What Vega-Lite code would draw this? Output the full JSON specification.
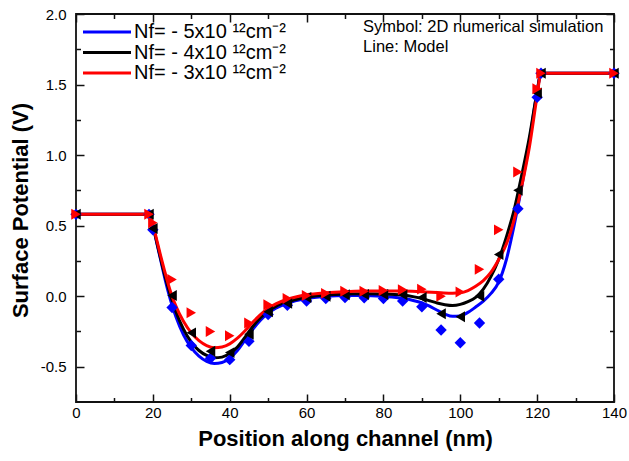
{
  "$schema": "https://vega.github.io/schema/vega-lite/v6.json",
  "width": 538,
  "height": 388,
  "autosize": {"type": "none"},
  "padding": {"left": 76, "top": 14, "right": 15, "bottom": 59},
  "background": "white",
  "config": {
    "font": "Liberation Sans",
    "view": {"stroke": "#111111", "strokeWidth": 1.8},
    "axis": {
      "grid": false,
      "domain": false,
      "tickColor": "#111111",
      "labelColor": "#000000",
      "titleColor": "#000000",
      "labelFont": "Liberation Sans",
      "titleFont": "Liberation Sans",
      "labelFontSize": 15,
      "tickWidth": 1.5
    }
  },
  "datasets": {
    "lines": [
      {"s":"5","x":0,"y":0.58},{"s":"5","x":19,"y":0.58},{"s":"5","x":20,"y":0.50},{"s":"5","x":21,"y":0.38},{"s":"5","x":22,"y":0.26},{"s":"5","x":23,"y":0.14},{"s":"5","x":24,"y":0.03},{"s":"5","x":25,"y":-0.065},{"s":"5","x":26,"y":-0.145},{"s":"5","x":28,"y":-0.275},{"s":"5","x":30,"y":-0.365},{"s":"5","x":32,"y":-0.425},{"s":"5","x":34,"y":-0.462},{"s":"5","x":36,"y":-0.477},{"s":"5","x":38,"y":-0.47},{"s":"5","x":40,"y":-0.44},{"s":"5","x":42,"y":-0.385},{"s":"5","x":44,"y":-0.31},{"s":"5","x":46,"y":-0.235},{"s":"5","x":48,"y":-0.17},{"s":"5","x":50,"y":-0.12},{"s":"5","x":52,"y":-0.085},{"s":"5","x":55,"y":-0.05},{"s":"5","x":58,"y":-0.028},{"s":"5","x":60,"y":-0.017},{"s":"5","x":65,"y":-0.002},{"s":"5","x":70,"y":0.005},{"s":"5","x":75,"y":0.005},{"s":"5","x":80,"y":-0.002},{"s":"5","x":85,"y":-0.015},{"s":"5","x":88,"y":-0.032},{"s":"5","x":90,"y":-0.047},{"s":"5","x":92,"y":-0.07},{"s":"5","x":94,"y":-0.1},{"s":"5","x":96,"y":-0.127},{"s":"5","x":98,"y":-0.143},{"s":"5","x":100,"y":-0.14},{"s":"5","x":102,"y":-0.115},{"s":"5","x":104,"y":-0.077},{"s":"5","x":106,"y":-0.035},{"s":"5","x":108,"y":0.02},{"s":"5","x":110,"y":0.1},{"s":"5","x":112,"y":0.26},{"s":"5","x":114,"y":0.5},{"s":"5","x":116,"y":0.78},{"s":"5","x":118,"y":1.1},{"s":"5","x":120,"y":1.45},{"s":"5","x":121,"y":1.58},{"s":"5","x":140,"y":1.58},
      {"s":"4","x":0,"y":0.58},{"s":"4","x":19,"y":0.58},{"s":"4","x":20,"y":0.50},{"s":"4","x":21,"y":0.385},{"s":"4","x":22,"y":0.27},{"s":"4","x":23,"y":0.16},{"s":"4","x":24,"y":0.06},{"s":"4","x":25,"y":-0.03},{"s":"4","x":26,"y":-0.11},{"s":"4","x":28,"y":-0.235},{"s":"4","x":30,"y":-0.325},{"s":"4","x":32,"y":-0.385},{"s":"4","x":34,"y":-0.42},{"s":"4","x":36,"y":-0.437},{"s":"4","x":38,"y":-0.432},{"s":"4","x":40,"y":-0.407},{"s":"4","x":42,"y":-0.36},{"s":"4","x":44,"y":-0.29},{"s":"4","x":46,"y":-0.215},{"s":"4","x":48,"y":-0.152},{"s":"4","x":50,"y":-0.105},{"s":"4","x":52,"y":-0.072},{"s":"4","x":55,"y":-0.04},{"s":"4","x":58,"y":-0.018},{"s":"4","x":60,"y":-0.008},{"s":"4","x":65,"y":0.008},{"s":"4","x":70,"y":0.016},{"s":"4","x":75,"y":0.018},{"s":"4","x":80,"y":0.016},{"s":"4","x":85,"y":0.008},{"s":"4","x":88,"y":-0.005},{"s":"4","x":90,"y":-0.017},{"s":"4","x":92,"y":-0.032},{"s":"4","x":94,"y":-0.048},{"s":"4","x":96,"y":-0.06},{"s":"4","x":98,"y":-0.066},{"s":"4","x":100,"y":-0.058},{"s":"4","x":102,"y":-0.038},{"s":"4","x":104,"y":-0.008},{"s":"4","x":106,"y":0.05},{"s":"4","x":108,"y":0.14},{"s":"4","x":110,"y":0.26},{"s":"4","x":112,"y":0.42},{"s":"4","x":114,"y":0.61},{"s":"4","x":116,"y":0.86},{"s":"4","x":118,"y":1.13},{"s":"4","x":120,"y":1.45},{"s":"4","x":121,"y":1.58},{"s":"4","x":140,"y":1.58},
      {"s":"3","x":0,"y":0.58},{"s":"3","x":19,"y":0.58},{"s":"3","x":20,"y":0.51},{"s":"3","x":21,"y":0.40},{"s":"3","x":22,"y":0.29},{"s":"3","x":23,"y":0.185},{"s":"3","x":24,"y":0.085},{"s":"3","x":25,"y":0.0},{"s":"3","x":26,"y":-0.07},{"s":"3","x":28,"y":-0.18},{"s":"3","x":30,"y":-0.26},{"s":"3","x":32,"y":-0.315},{"s":"3","x":34,"y":-0.35},{"s":"3","x":36,"y":-0.365},{"s":"3","x":38,"y":-0.36},{"s":"3","x":40,"y":-0.338},{"s":"3","x":42,"y":-0.298},{"s":"3","x":44,"y":-0.245},{"s":"3","x":46,"y":-0.185},{"s":"3","x":48,"y":-0.13},{"s":"3","x":50,"y":-0.088},{"s":"3","x":52,"y":-0.055},{"s":"3","x":55,"y":-0.022},{"s":"3","x":58,"y":0.0},{"s":"3","x":60,"y":0.01},{"s":"3","x":65,"y":0.024},{"s":"3","x":70,"y":0.032},{"s":"3","x":75,"y":0.036},{"s":"3","x":80,"y":0.037},{"s":"3","x":85,"y":0.036},{"s":"3","x":90,"y":0.032},{"s":"3","x":95,"y":0.024},{"s":"3","x":98,"y":0.021},{"s":"3","x":100,"y":0.024},{"s":"3","x":102,"y":0.04},{"s":"3","x":104,"y":0.07},{"s":"3","x":106,"y":0.11},{"s":"3","x":108,"y":0.17},{"s":"3","x":110,"y":0.26},{"s":"3","x":112,"y":0.37},{"s":"3","x":114,"y":0.54},{"s":"3","x":116,"y":0.78},{"s":"3","x":118,"y":1.06},{"s":"3","x":120,"y":1.42},{"s":"3","x":121,"y":1.58},{"s":"3","x":140,"y":1.58}
    ],
    "pts": [
      {"s":"5","x":0,"y":0.58},{"s":"5","x":19,"y":0.58},{"s":"5","x":20,"y":0.47},{"s":"5","x":25,"y":-0.08},{"s":"5","x":30,"y":-0.35},{"s":"5","x":35,"y":-0.44},{"s":"5","x":40,"y":-0.45},{"s":"5","x":45,"y":-0.32},{"s":"5","x":50,"y":-0.13},{"s":"5","x":55,"y":-0.065},{"s":"5","x":60,"y":-0.035},{"s":"5","x":65,"y":-0.016},{"s":"5","x":70,"y":-0.01},{"s":"5","x":75,"y":-0.012},{"s":"5","x":80,"y":-0.016},{"s":"5","x":85,"y":-0.035},{"s":"5","x":90,"y":-0.075},{"s":"5","x":95,"y":-0.24},{"s":"5","x":100,"y":-0.33},{"s":"5","x":105,"y":-0.19},{"s":"5","x":110,"y":0.12},{"s":"5","x":115,"y":0.62},{"s":"5","x":120,"y":1.41},{"s":"5","x":121,"y":1.58},{"s":"5","x":140,"y":1.58},
      {"s":"4","x":0,"y":0.58},{"s":"4","x":19,"y":0.58},{"s":"4","x":20,"y":0.48},{"s":"4","x":25,"y":0.005},{"s":"4","x":30,"y":-0.26},{"s":"4","x":35,"y":-0.39},{"s":"4","x":40,"y":-0.40},{"s":"4","x":45,"y":-0.27},{"s":"4","x":50,"y":-0.11},{"s":"4","x":55,"y":-0.05},{"s":"4","x":60,"y":-0.01},{"s":"4","x":65,"y":0.0},{"s":"4","x":70,"y":0.01},{"s":"4","x":75,"y":0.012},{"s":"4","x":80,"y":0.012},{"s":"4","x":85,"y":0.01},{"s":"4","x":90,"y":-0.01},{"s":"4","x":95,"y":-0.125},{"s":"4","x":100,"y":-0.146},{"s":"4","x":105,"y":0.0},{"s":"4","x":110,"y":0.295},{"s":"4","x":115,"y":0.75},{"s":"4","x":120,"y":1.44},{"s":"4","x":121,"y":1.58},{"s":"4","x":140,"y":1.58},
      {"s":"3","x":0,"y":0.58},{"s":"3","x":19,"y":0.58},{"s":"3","x":20,"y":0.52},{"s":"3","x":25,"y":0.118},{"s":"3","x":30,"y":-0.118},{"s":"3","x":35,"y":-0.25},{"s":"3","x":40,"y":-0.28},{"s":"3","x":45,"y":-0.19},{"s":"3","x":50,"y":-0.06},{"s":"3","x":55,"y":-0.016},{"s":"3","x":60,"y":0.005},{"s":"3","x":65,"y":0.02},{"s":"3","x":70,"y":0.035},{"s":"3","x":75,"y":0.035},{"s":"3","x":80,"y":0.04},{"s":"3","x":85,"y":0.045},{"s":"3","x":90,"y":0.05},{"s":"3","x":95,"y":0.0},{"s":"3","x":100,"y":0.03},{"s":"3","x":105,"y":0.19},{"s":"3","x":110,"y":0.47},{"s":"3","x":115,"y":0.88},{"s":"3","x":120,"y":1.47},{"s":"3","x":121,"y":1.58},{"s":"3","x":140,"y":1.58}
    ]
  },
  "resolve": {"axis": {"x": "independent", "y": "independent"}},
  "layer": [
    {
      "data": {"name": "lines"},
      "transform": [{"filter": "datum.s == '5'"}],
      "mark": {"type": "line", "strokeWidth": 3, "interpolate": "monotone"},
      "encoding": {
        "x": {"field": "x", "type": "quantitative", "scale": {"domain": [0, 140], "nice": false, "zero": false},
          "axis": {"orient": "bottom", "offset": -8, "tickSize": 8, "values": [0,20,40,60,80,100,120,140], "labelPadding": 3, "labelFlush": false,
            "title": "Position along channel (nm)", "titleFontSize": 22, "titleFontWeight": "bold", "titlePadding": 8}},
        "y": {"field": "y", "type": "quantitative", "scale": {"domain": [-0.75, 2.0], "nice": false, "zero": false},
          "axis": {"orient": "left", "offset": -8, "tickSize": 8, "values": [-0.5,0,0.5,1,1.5,2], "labelPadding": 10, "labelFlush": false,
            "labelExpr": "datum.value < 0 ? '-' + format(-datum.value, '.1f') : format(datum.value, '.1f')",
            "title": "Surface Potential (V)", "titleFontSize": 22, "titleFontWeight": "bold", "titlePadding": 8, "titleY": 196}},
        "color": {"field": "s", "type": "nominal",
          "scale": {"domain": ["5","4","3"], "range": ["#0000ff","#000000","#ff0000"]},
          "legend": {"orient": "none", "legendX": 21, "legendY": 8, "title": null, "symbolType": "M-4,0L4,0", "symbolSize": 144,
            "symbolStrokeWidth": 3, "labelFontSize": 20, "labelOffset": 17, "rowPadding": 0.5, "padding": 0, "labelLimit": 0,
            "labelColor": "#000000", "labelFont": "Liberation Sans",
            "labelExpr": "'Nf= - ' + datum.label + 'x10 ¹²cm⁻²'"}}
      }
    },
    {
      "data": {"name": "lines"},
      "transform": [{"filter": "datum.s == '4'"}],
      "mark": {"type": "line", "strokeWidth": 3, "interpolate": "monotone"},
      "encoding": {
        "x": {"field": "x", "type": "quantitative",
          "axis": {"orient": "bottom", "offset": -4.5, "tickSize": 4.5, "values": [10,30,50,70,90,110,130], "labels": false, "title": null}},
        "y": {"field": "y", "type": "quantitative",
          "axis": {"orient": "left", "offset": -4.5, "tickSize": 4.5, "values": [-0.25,0.25,0.75,1.25,1.75], "labels": false, "title": null}},
        "color": {"field": "s", "type": "nominal"}
      }
    },
    {
      "data": {"name": "lines"},
      "transform": [{"filter": "datum.s == '3'"}],
      "mark": {"type": "line", "strokeWidth": 3, "interpolate": "monotone"},
      "encoding": {
        "x": {"field": "x", "type": "quantitative",
          "axis": {"orient": "top", "offset": -8, "tickSize": 8, "values": [0,20,40,60,80,100,120,140], "labels": false, "title": null}},
        "y": {"field": "y", "type": "quantitative",
          "axis": {"orient": "right", "offset": -8, "tickSize": 8, "values": [-0.5,0,0.5,1,1.5,2], "labels": false, "title": null}},
        "color": {"field": "s", "type": "nominal"}
      }
    },
    {
      "data": {"name": "pts"},
      "transform": [{"filter": "datum.s == '5'"}],
      "mark": {"type": "point", "shape": "diamond", "filled": true, "size": 130, "color": "#0000ff", "opacity": 1},
      "encoding": {
        "x": {"field": "x", "type": "quantitative",
          "axis": {"orient": "top", "offset": -4.5, "tickSize": 4.5, "values": [10,30,50,70,90,110,130], "labels": false, "title": null}},
        "y": {"field": "y", "type": "quantitative",
          "axis": {"orient": "right", "offset": -4.5, "tickSize": 4.5, "values": [-0.25,0.25,0.75,1.25,1.75], "labels": false, "title": null}}
      }
    },
    {
      "data": {"name": "pts"},
      "transform": [{"filter": "datum.s == '4'"}],
      "mark": {"type": "point", "shape": "triangle-left", "filled": true, "size": 120, "color": "#000000", "opacity": 1},
      "encoding": {
        "x": {"field": "x", "type": "quantitative", "axis": null},
        "y": {"field": "y", "type": "quantitative", "axis": null}
      }
    },
    {
      "data": {"name": "pts"},
      "transform": [{"filter": "datum.s == '3'"}],
      "mark": {"type": "point", "shape": "triangle-right", "filled": true, "size": 120, "color": "#ff0000", "opacity": 1},
      "encoding": {
        "x": {"field": "x", "type": "quantitative", "axis": null},
        "y": {"field": "y", "type": "quantitative", "axis": null}
      }
    },
    {
      "data": {"values": [{}]},
      "mark": {"type": "text", "align": "left", "baseline": "middle", "fontSize": 16.5, "font": "Liberation Sans", "color": "#000000"},
      "encoding": {
        "x": {"datum": 74.7, "type": "quantitative", "axis": null},
        "y": {"datum": 1.907, "type": "quantitative", "axis": null},
        "text": {"value": "Symbol: 2D numerical simulation"}
      }
    },
    {
      "data": {"values": [{}]},
      "mark": {"type": "text", "align": "left", "baseline": "middle", "fontSize": 16.5, "font": "Liberation Sans", "color": "#000000"},
      "encoding": {
        "x": {"datum": 74.7, "type": "quantitative", "axis": null},
        "y": {"datum": 1.766, "type": "quantitative", "axis": null},
        "text": {"value": "Line: Model"}
      }
    }
  ]
}
